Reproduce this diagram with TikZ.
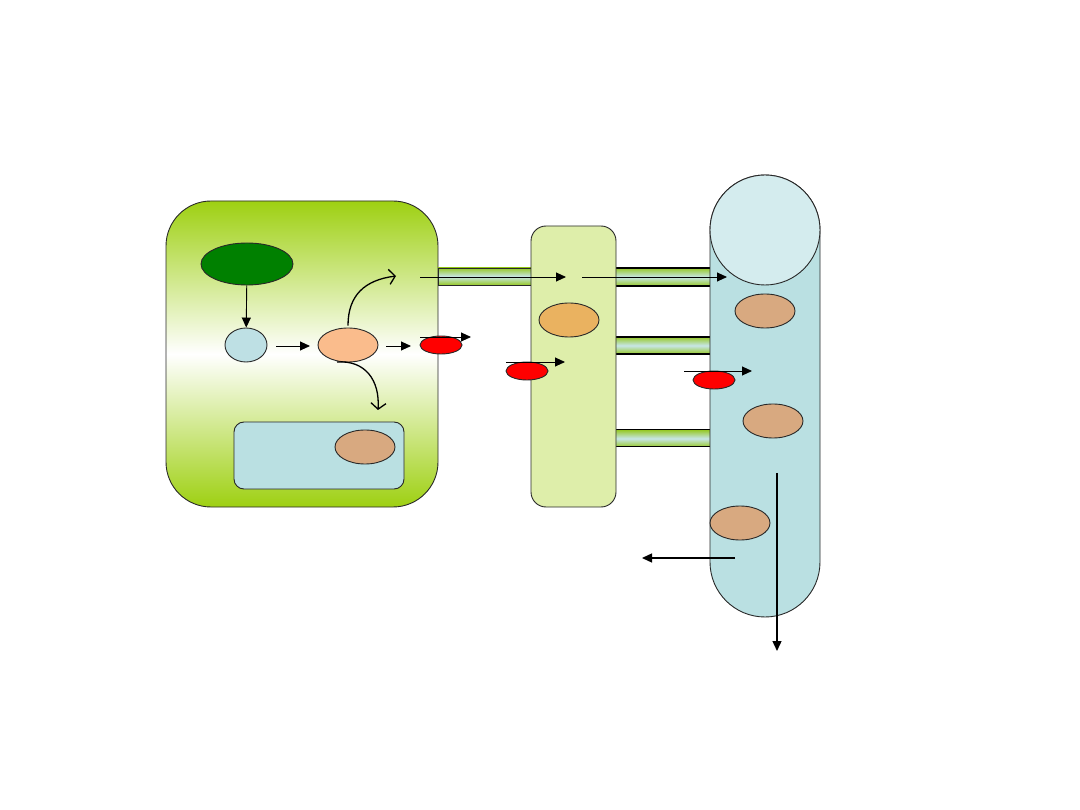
\documentclass[tikz,border=0pt]{standalone}
\usetikzlibrary{arrows.meta,shapes.geometric}
\definecolor{cellgreen}{RGB}{158,208,18}
\definecolor{tubegreen}{RGB}{150,200,40}
\definecolor{tubeblue}{RGB}{200,230,232}
\definecolor{lightcyan}{RGB}{186,224,226}
\definecolor{topcyan}{RGB}{212,236,238}
\definecolor{darkgreen}{RGB}{0,128,0}
\definecolor{peach}{RGB}{250,188,140}
\definecolor{brownish}{RGB}{216,169,128}
\definecolor{orangeish}{RGB}{234,178,96}
\definecolor{midcell}{RGB}{222,238,170}
\definecolor{smallblue}{RGB}{190,224,228}
\definecolor{edge}{RGB}{40,40,40}
\tikzset{
  ell/.style={ellipse,draw=edge,line width=0.9pt,inner sep=0pt},
  redell/.style={ell,fill=red,minimum width=42pt,minimum height=18pt},
  brownell/.style={ell,fill=brownish,minimum width=60pt,minimum height=34pt},
  arr/.style={-{Triangle[length=10pt,width=9pt]},line width=0.9pt},
  barb/.style={-{Straight Barb[length=6pt,width=15pt]},line width=1.3pt},
  tube/.style={top color=tubegreen,bottom color=tubegreen,middle color=tubeblue},
}
\begin{document}
\begin{tikzpicture}[x=1pt,y=-1pt]
\useasboundingbox (0,0) rectangle (1080,810);
% left cell
\path[top color=cellgreen,bottom color=cellgreen,middle color=white,draw=edge,line width=0.9pt,rounded corners=45pt]
  (166,201) rectangle (438,507);
% tubes
\path[tube,draw=edge,line width=0.7pt] (438,268) rectangle (531,285);
\fill[tube] (616,268) rectangle (710,286);
\draw[line width=2pt] (616,268) -- (710,268) (616,286) -- (710,286);
\fill[tube] (616,337) rectangle (710,354);
\draw[line width=2pt] (616,337) -- (710,337) (616,354) -- (710,354);
\fill[tube] (616,430) rectangle (710,447);
\draw[line width=1pt] (616,430) -- (710,430) (616,447) -- (710,447);
% middle cell
\path[fill=midcell,draw=edge,line width=0.9pt,rounded corners=15pt] (531,226) rectangle (616,507);
% right cylinder
\path[fill=lightcyan,draw=edge,line width=0.9pt]
  (710,230) -- (710,562) arc[start angle=180,end angle=0,radius=55] -- (820,230)
  arc[start angle=0,end angle=-180,radius=55] -- cycle;
\draw[fill=topcyan,draw=edge,line width=0.9pt] (765,230) circle[radius=55];
% inner box of left cell
\path[fill=lightcyan,draw=edge,line width=0.9pt,rounded corners=10pt] (234,422) rectangle (404,489);
% nodes
\node[ell,fill=darkgreen,minimum width=92pt,minimum height=42pt] (g) at (247,264) {};
\node[ell,fill=smallblue,minimum width=42pt,minimum height=34pt] (b) at (246,345) {};
\node[ell,fill=peach,minimum width=60pt,minimum height=34pt] (p) at (348,345) {};
\node[redell] (r1) at (441,345) {};
\node[brownell] (n1) at (365,447) {};
\node[ell,fill=orangeish,minimum width=60pt,minimum height=34pt] (o) at (569,320) {};
\node[redell] (r2) at (527,371) {};
\node[brownell] (c1) at (765,311) {};
\node[brownell] (c2) at (773,421) {};
\node[brownell] (c3) at (740,523) {};
\node[redell] (r3) at (714,380) {};
% coordinates for free ends
\coordinate (a1s) at (276,346); \coordinate (a1e) at (310,346);
\coordinate (a2s) at (386,346); \coordinate (a2e) at (411,346);
\coordinate (a3s) at (420,337); \coordinate (a3e) at (471,337);
\coordinate (t1s) at (420,277); \coordinate (t1e) at (566,277);
\coordinate (t2s) at (582,277); \coordinate (t2e) at (727,277);
\coordinate (a4s) at (506,362); \coordinate (a4e) at (565,362);
\coordinate (a5s) at (684,371); \coordinate (a5e) at (752,371);
\coordinate (a6s) at (735,558); \coordinate (a6e) at (642,558);
\coordinate (a7s) at (777,473); \coordinate (a7e) at (777,651);
\coordinate (cu1e) at (396,276);
\coordinate (cu2s) at (337,362); \coordinate (cu2e) at (378,410);
% connectors
\draw[arr] (g) -- (b);
\draw[arr] (a1s) -- (a1e);
\draw[arr] (a2s) -- (a2e);
\draw[arr] (a3s) -- (a3e);
\draw[arr] (t1s) -- (t1e);
\draw[arr] (t2s) -- (t2e);
\draw[arr] (a4s) -- (a4e);
\draw[arr] (a5s) -- (a5e);
\draw[arr,line width=1.4pt] (a6s) -- (a6e);
\draw[arr,line width=1.4pt] (a7s) -- (a7e);
\draw[barb] (p.north) ++(0,-2) .. controls (348,295) and (365,280) .. (cu1e);
\draw[barb] (cu2s) .. controls (365,360) and (380,380) .. (cu2e);
\end{tikzpicture}
\end{document}
